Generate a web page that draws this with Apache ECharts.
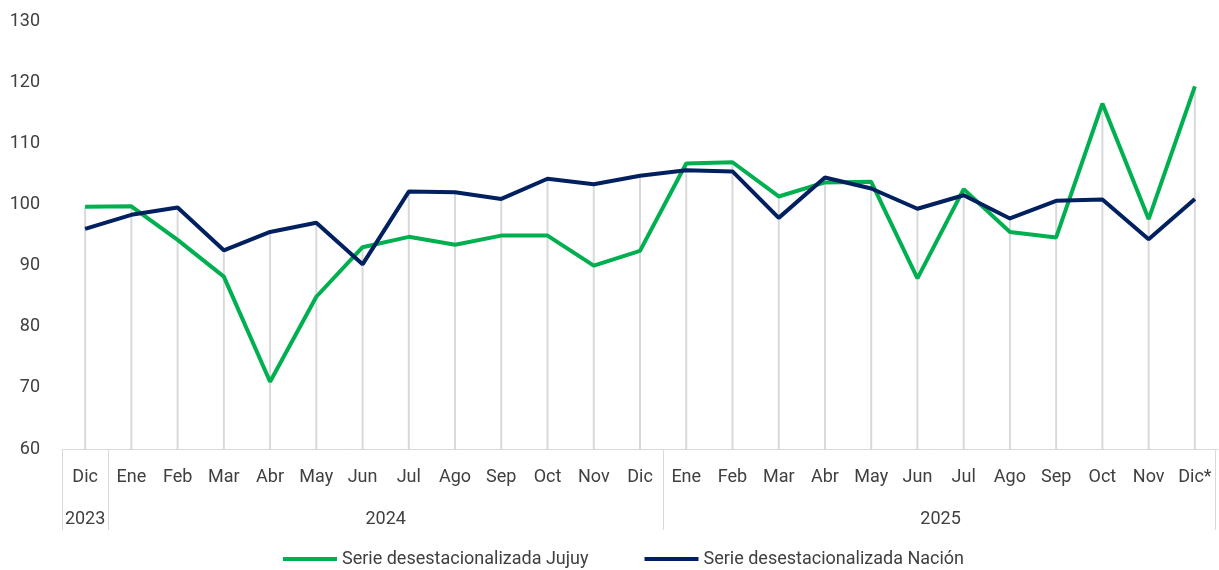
<!DOCTYPE html>
<html>
<head>
<meta charset="utf-8">
<script src="https://cdn.jsdelivr.net/npm/echarts@6/dist/echarts.min.js"></script>
<style>
  html, body { margin: 0; padding: 0; background: #fff; }
  #chart { width: 1219px; height: 570px; }
</style>
</head>
<body>
<div id="chart"></div>
<script>
  // meses (Dic 2023 .. Dic* 2025)
  const months = ['Dic', 'Ene', 'Feb', 'Mar', 'Abr', 'May', 'Jun', 'Jul', 'Ago', 'Sep', 'Oct', 'Nov', 'Dic',
    'Ene', 'Feb', 'Mar', 'Abr', 'May', 'Jun', 'Jul', 'Ago', 'Sep', 'Oct', 'Nov', 'Dic*']
  const yearLabels = ['2023', '2024', '2025']
  const yearStart = [0, 1, 13]
  const yearEnd = [0, 12, 24]

  const jujuy = [99.6, 99.7, 94.2, 88.2, 71.0, 84.9, 93.0, 94.7, 93.4, 94.9, 94.9, 90.0, 92.4,
    106.7, 106.9, 101.3, 103.6, 103.7, 87.9, 102.5, 95.5, 94.6, 116.5, 97.6, 119.3]
  const nacion = [96.0, 98.3, 99.5, 92.5, 95.5, 97.0, 90.2, 102.1, 102.0, 100.9, 104.2, 103.3, 104.7,
    105.6, 105.4, 97.8, 104.4, 102.6, 99.3, 101.5, 97.7, 100.6, 100.8, 94.3, 100.9]

  const yMin = 60
  const yMax = 130
  const yStep = 10

  const textColor = '#404040'
  const gridColor = '#d9d9d9'
  const fontFamily = 'Roboto, "Liberation Sans", sans-serif'

  // lineas verticales: desde el eje hasta el valor mas alto de cada mes
  const dropLines = jujuy.map((v, i) => Math.max(v, nacion[i]))

  const chart = echarts.init(document.getElementById('chart'))
  chart.setOption({
    animation: false,
    textStyle: { fontFamily: fontFamily, color: textColor },
    grid: { left: 62, right: 1, top: 21, bottom: 121 },
    legend: {
      data: ['Serie desestacionalizada Jujuy', 'Serie desestacionalizada Nación'],
      bottom: -3,
      left: 278,
      icon: 'rect',
      itemWidth: 54,
      itemHeight: 4,
      itemGap: 56,
      textStyle: { color: textColor, fontSize: 18, fontFamily: fontFamily }
    },
    xAxis: {
      type: 'category',
      data: months,
      boundaryGap: true,
      axisLine: { lineStyle: { color: gridColor, width: 1 } },
      axisTick: { show: false },
      axisLabel: { color: textColor, fontSize: 18, margin: 19, interval: 0 },
      splitLine: { show: false }
    },
    yAxis: {
      type: 'value',
      min: yMin,
      max: yMax,
      interval: yStep,
      axisLine: { show: false },
      axisTick: { show: false },
      splitLine: { show: false },
      axisLabel: { color: textColor, fontSize: 18, margin: 22 }
    },
    series: [
      {
        name: 'drop',
        type: 'bar',
        data: dropLines,
        barWidth: 2,
        itemStyle: { color: gridColor },
        silent: true,
        z: 1
      },
      {
        name: 'Serie desestacionalizada Jujuy',
        type: 'line',
        data: jujuy,
        symbol: 'none',
        lineStyle: { color: '#00b050', width: 4 },
        itemStyle: { color: '#00b050' },
        z: 3
      },
      {
        name: 'Serie desestacionalizada Nación',
        type: 'line',
        data: nacion,
        symbol: 'none',
        lineStyle: { color: '#002060', width: 4 },
        itemStyle: { color: '#002060' },
        z: 4
      }
    ]
  })

  // separadores y etiquetas de año
  const c0 = chart.convertToPixel({ xAxisIndex: 0 }, 0)
  const c1 = chart.convertToPixel({ xAxisIndex: 0 }, 1)
  const band = c1 - c0
  const axisY = chart.convertToPixel({ yAxisIndex: 0 }, yMin)
  const graphics = []
  const sepLine = x => ({
    type: 'line',
    shape: { x1: x, y1: axisY, x2: x, y2: axisY + 81 },
    style: { stroke: gridColor, lineWidth: 1 },
    silent: true
  })
  yearLabels.forEach((label, k) => {
    const left = chart.convertToPixel({ xAxisIndex: 0 }, yearStart[k]) - band / 2
    const right = chart.convertToPixel({ xAxisIndex: 0 }, yearEnd[k]) + band / 2
    graphics.push(sepLine(Math.round(left) + 0.5))
    if (k === yearLabels.length - 1) graphics.push(sepLine(Math.round(right) - 2.5))
    graphics.push({
      type: 'text',
      x: (left + right) / 2,
      y: axisY + 70,
      style: {
        text: label,
        fill: textColor,
        font: '18px ' + fontFamily,
        align: 'center',
        verticalAlign: 'middle'
      },
      silent: true
    })
  })
  chart.setOption({ graphic: graphics })
</script>
</body>
</html>
